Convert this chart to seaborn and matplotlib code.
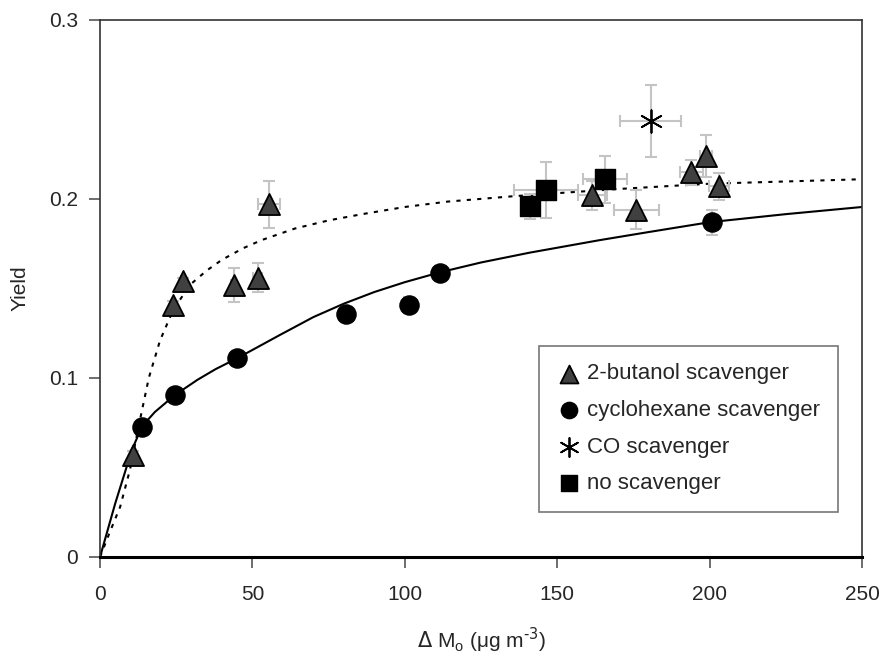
import seaborn as sns
import matplotlib.pyplot as plt

# 2-butanol scavenger
but_x = [10.8, 23.9, 27.2, 43.9, 51.8, 55.4, 161.5, 176.0, 194.0, 198.7, 203.0]
but_y = [0.057, 0.141, 0.154, 0.152, 0.156, 0.197, 0.202, 0.194, 0.215, 0.224, 0.207]
but_xerr = [0.5, 0.5, 0.5, 0.8, 1.5, 3.5, 4.8, 7.4, 3.8, 2.0, 3.3]
but_yerr = [0.002, 0.002, 0.002, 0.0095, 0.008, 0.013, 0.008, 0.011, 0.007, 0.0115, 0.0075]

# cyclohexane scavenger
cyc_x = [13.8, 24.6, 45.0, 80.7, 101.3, 111.5, 200.7]
cyc_y = [0.0726, 0.0905, 0.111, 0.136, 0.141, 0.1587, 0.187]
cyc_xerr = [0.3, 0.3, 0.3, 0.3, 0.3, 0.3, 0.3]
cyc_yerr = [0.002, 0.004, 0.003, 0.003, 0.004, 0.004, 0.007]

# CO scavenger
co_x = [180.7]
co_y = [0.2436]
co_xerr = [10.0]
co_yerr = [0.02]

# no scavenger
no_x = [141.0, 146.2, 165.6]
no_y = [0.196, 0.205, 0.211]
no_xerr = [2.0, 10.5, 7.3]
no_yerr = [0.007, 0.0155, 0.013]

# fitted curves
solid_x = [0, 5, 10.5, 13.8, 18, 24.6, 32, 38, 45, 52, 59, 70, 80, 90, 100, 111.5, 125, 141, 164, 180, 200, 225, 250]
solid_y = [0, 0.030, 0.060, 0.073, 0.081, 0.0905, 0.099, 0.105, 0.111, 0.1175, 0.124, 0.134, 0.1415, 0.148, 0.1535, 0.159, 0.1645, 0.170, 0.177, 0.1815, 0.187, 0.1915, 0.1955]
dashed_x = [0, 3, 6.6, 9.8, 13.1, 16, 19.7, 24, 29.5, 35, 40, 47, 53, 64, 75, 86, 100, 114, 135.5, 169.5, 200, 250]
dashed_y = [0, 0.013, 0.028, 0.0486, 0.0765, 0.100, 0.121, 0.138, 0.152, 0.160, 0.166, 0.1725, 0.177, 0.1835, 0.188, 0.1915, 0.1955, 0.1985, 0.2015, 0.2055, 0.2085, 0.211]

sns.set_style("ticks")
plt.rcParams['font.family'] = ['Liberation Sans', 'DejaVu Sans']
plt.rcParams['axes.unicode_minus'] = False

fig = plt.figure(figsize=(8.86, 6.68), dpi=100)
ax = fig.add_axes([0.1129, 0.1662, 0.8600, 0.8040])

# curves
sns.lineplot(x=solid_x, y=solid_y, color='black', lw=1.5, ax=ax, sort=False)
sns.lineplot(x=dashed_x, y=dashed_y, color='black', lw=1.5, ax=ax, sort=False,
             linestyle=(0, (2, 3)))

# error bars
err_kw = dict(fmt='none', ecolor='#c4c4c4', elinewidth=1.5, capsize=4, capthick=1.5, zorder=2)
ax.errorbar(but_x, but_y, xerr=but_xerr, yerr=but_yerr, **err_kw)
ax.errorbar(cyc_x, cyc_y, xerr=cyc_xerr, yerr=cyc_yerr, **err_kw)
ax.errorbar(co_x, co_y, xerr=co_xerr, yerr=co_yerr, **err_kw)
ax.errorbar(no_x, no_y, xerr=no_xerr, yerr=no_yerr, **err_kw)

# points
sns.scatterplot(x=but_x, y=but_y, marker='^', s=230, color='#404040', edgecolor='black',
                linewidth=1.3, ax=ax, label='2-butanol scavenger', zorder=4)
sns.scatterplot(x=cyc_x, y=cyc_y, marker='o', s=190, color='black', edgecolor='black',
                linewidth=1, ax=ax, label='cyclohexane scavenger', zorder=4)
sns.scatterplot(x=co_x, y=co_y, marker=(6, 2, 0), s=260, color='black',
                linewidth=1.3, ax=ax, label='CO scavenger', zorder=4)
sns.scatterplot(x=no_x, y=no_y, marker='s', s=200, color='black', edgecolor='black',
                linewidth=1, ax=ax, label='no scavenger', zorder=4)

ax.set_xlim(0, 250)
ax.set_ylim(0, 0.3)
ax.set_xticks([0, 50, 100, 150, 200, 250])
ax.set_yticks([0, 0.1, 0.2, 0.3])
ax.set_yticklabels(['0', '0.1', '0.2', '0.3'])
ax.tick_params(axis='both', labelsize=15, direction='out', length=8, width=1.2,
               color='#555555', pad=8)
ax.tick_params(axis='x', pad=12)

for side in ['left', 'right', 'top']:
    ax.spines[side].set_linewidth(1.2)
    ax.spines[side].set_color('#333333')
ax.spines['bottom'].set_linewidth(2.2)
ax.spines['bottom'].set_color('black')

ax.set_xlabel(r'$\Delta$ M$_\mathregular{o}$ ($\mathregular{\mu}$g m$^{\text{-3}}$)', fontsize=15, labelpad=16)
ax.set_ylabel('Yield', fontsize=15, labelpad=14)

leg = ax.legend(loc='lower right', bbox_to_anchor=(0.968, 0.084), fontsize=16, frameon=True,
                fancybox=False, edgecolor='#555555', handletextpad=0.25, labelspacing=0.7,
                borderpad=0.8, handlelength=1.1, markerscale=0.85, borderaxespad=0)
leg.get_frame().set_linewidth(1.2)

fig.savefig('out.png', dpi=100)
